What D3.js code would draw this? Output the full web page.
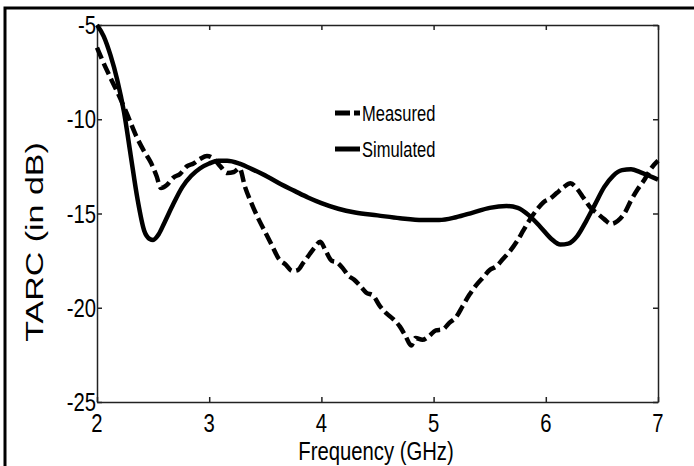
<!DOCTYPE html>
<html>
<head>
<meta charset="utf-8">
<title>TARC</title>
<style>
html, body { margin: 0; background: #fff; overflow: hidden; }
svg { display: block; }
svg text { font-family: "Liberation Sans", Arial, sans-serif; fill: #000; }
.axis path, .axis line { fill: none; stroke: #222; stroke-width: 1.5; }
.line { fill: none; stroke: #000; stroke-width: 4.5; stroke-linejoin: round; }
.measured { stroke-dasharray: 12,5; }
</style>
</head>
<body>
<div id="vis"></div>
<script src="https://cdnjs.cloudflare.com/ajax/libs/d3/7.8.5/d3.min.js"></script>
<script>

// Simulated TARC (solid)
var simFreq = [2.0,2.06,2.12,2.18,2.24,2.30,2.36,2.42,2.47,2.50,2.55,2.60,2.68,2.76,2.84,2.92,3.00,3.08,3.16,3.27,3.40,3.52,3.64,3.76,3.88,4.00,4.15,4.30,4.50,4.70,4.90,5.05,5.20,5.35,5.50,5.65,5.75,5.85,5.95,6.05,6.13,6.20,6.28,6.36,6.44,6.52,6.60,6.68,6.76,6.84,6.92,7.0];
var simTarc = [-5,-5.6,-6.6,-7.9,-9.6,-11.9,-14.2,-15.9,-16.35,-16.4,-16.1,-15.5,-14.5,-13.6,-13.0,-12.6,-12.35,-12.2,-12.2,-12.35,-12.7,-13.05,-13.45,-13.8,-14.15,-14.45,-14.75,-14.95,-15.1,-15.25,-15.35,-15.35,-15.2,-14.95,-14.7,-14.6,-14.7,-15.1,-15.7,-16.35,-16.65,-16.6,-16.2,-15.4,-14.5,-13.6,-13.0,-12.7,-12.65,-12.8,-13.0,-13.2];

// Measured TARC (dashed)
var measFreq = [2.0,2.05,2.12,2.2,2.28,2.35,2.42,2.48,2.53,2.57,2.62,2.68,2.74,2.80,2.86,2.92,2.98,3.04,3.10,3.16,3.22,3.27,3.32,3.38,3.44,3.50,3.56,3.62,3.68,3.74,3.79,3.84,3.89,3.94,3.99,4.04,4.09,4.14,4.19,4.24,4.29,4.34,4.40,4.46,4.52,4.58,4.64,4.70,4.75,4.80,4.84,4.90,4.96,5.02,5.08,5.14,5.20,5.26,5.32,5.38,5.44,5.50,5.56,5.62,5.68,5.74,5.80,5.86,5.92,5.98,6.04,6.10,6.16,6.22,6.28,6.34,6.40,6.46,6.52,6.58,6.64,6.70,6.76,6.82,6.88,6.94,7.0];
var measTarc = [-6.2,-6.9,-7.8,-8.8,-9.9,-10.9,-11.7,-12.3,-13.0,-13.65,-13.5,-13.1,-12.9,-12.5,-12.35,-12.1,-11.95,-12.1,-12.5,-12.85,-12.8,-12.6,-13.6,-14.5,-15.3,-16.0,-16.7,-17.4,-17.7,-18.05,-18.0,-17.6,-17.2,-16.8,-16.5,-17.0,-17.5,-17.6,-17.9,-18.3,-18.5,-18.8,-19.2,-19.35,-19.9,-20.3,-20.6,-21.0,-21.5,-22.0,-21.6,-21.7,-21.5,-21.2,-21.15,-20.8,-20.5,-19.9,-19.3,-18.8,-18.4,-18.0,-17.8,-17.4,-17.0,-16.5,-15.9,-15.3,-14.8,-14.4,-14.2,-13.9,-13.6,-13.4,-13.7,-14.2,-14.7,-15.0,-15.3,-15.55,-15.4,-15.0,-14.3,-13.7,-13.2,-12.6,-12.2];

var xTicks = [2, 3, 4, 5, 6, 7];
var yTicks = [-25, -20, -15, -10, -5];
var seriesNames = ["Measured", "Simulated"];

var W = 694, H = 466;
var margin = {top: 25, right: 36, bottom: 64, left: 97},
    width = W - margin.left - margin.right,
    height = H - margin.top - margin.bottom;
var squeeze = 0.78;

var svg = d3.select("#vis").append("svg")
    .attr("width", W)
    .attr("height", H);

// outer frame: only the left and top edges are inside the picture
svg.append("path")
    .attr("d", "M5," + (H + 5) + "V8H" + (W + 5))
    .attr("fill", "none").attr("stroke", "#000").attr("stroke-width", 3);

var g = svg.append("g")
    .attr("transform", "translate(" + margin.left + "," + margin.top + ")");

var x = d3.scaleLinear().domain([2, 7]).range([0, width]);
var y = d3.scaleLinear().domain([-25, -5]).range([height, 0]);

// ticks on all four sides, pointing inward
g.append("g").attr("class", "x axis")
    .attr("transform", "translate(0," + height + ")")
    .call(d3.axisBottom(x).tickValues(xTicks).tickSizeInner(-5).tickSizeOuter(0).tickFormat(""));
g.append("g").attr("class", "x axis")
    .call(d3.axisTop(x).tickValues(xTicks).tickSizeInner(-5).tickSizeOuter(0).tickFormat(""));
g.append("g").attr("class", "y axis")
    .call(d3.axisLeft(y).tickValues(yTicks).tickSizeInner(-5).tickSizeOuter(0).tickFormat(""));
g.append("g").attr("class", "y axis")
    .attr("transform", "translate(" + width + ",0)")
    .call(d3.axisRight(y).tickValues(yTicks).tickSizeInner(-5).tickSizeOuter(0).tickFormat(""));

// tick labels (narrow looking text)
g.selectAll(".xlab").data(xTicks).enter().append("text")
    .attr("class", "xlab")
    .attr("transform", function(d) { return "translate(" + x(d) + "," + (height + 30) + ") scale(" + squeeze + ",1)"; })
    .attr("text-anchor", "middle")
    .style("font-size", "26px")
    .text(function(d) { return d; });

g.selectAll(".ylab").data(yTicks).enter().append("text")
    .attr("class", "ylab")
    .attr("transform", function(d) { return "translate(-1," + (y(d) + 9) + ") scale(" + squeeze + ",1)"; })
    .attr("text-anchor", "end")
    .style("font-size", "26px")
    .text(function(d) { return d; });

// axis titles
svg.append("text")
    .attr("transform", "translate(376,460) scale(" + squeeze + ",1)")
    .attr("text-anchor", "middle")
    .style("font-size", "26px")
    .text("Frequency (GHz)");

svg.append("text")
    .attr("transform", "translate(43,242) rotate(-90) scale(1,0.73)")
    .attr("text-anchor", "middle")
    .style("font-size", "34px")
    .text("TARC (in dB)");

// curves
var line = d3.line()
    .x(function(d) { return x(d[0]); })
    .y(function(d) { return y(d[1]); })
    .curve(d3.curveMonotoneX);

g.append("path")
    .datum(d3.zip(simFreq, simTarc))
    .attr("class", "line simulated")
    .attr("d", line);

g.append("path")
    .datum(d3.zip(measFreq, measTarc))
    .attr("class", "line measured")
    .attr("d", line);

// legend
var legend = svg.append("g").attr("transform", "translate(335,113)");
seriesNames.forEach(function(name, i) {
    var row = legend.append("g").attr("transform", "translate(0," + (i * 36) + ")");
    row.append("line")
        .attr("x1", 0).attr("x2", 25)
        .attr("stroke", "#000").attr("stroke-width", 5)
        .attr("stroke-dasharray", i === 0 ? "15,4" : null);
    row.append("text")
        .attr("transform", "translate(27,8) scale(0.75,1)")
        .style("font-size", "22px")
        .text(name);
});

</script>
</body>
</html>
